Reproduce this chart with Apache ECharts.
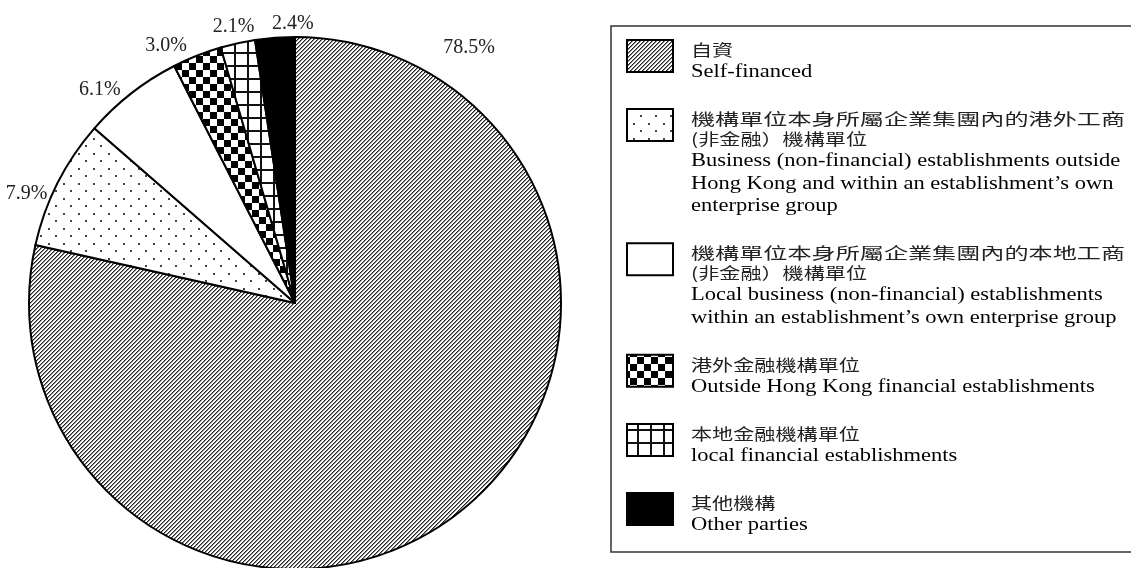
<!DOCTYPE html>
<html><head><meta charset="utf-8">
<script src="https://cdn.jsdelivr.net/npm/echarts@6/dist/echarts.min.js"></script>
<style>html,body{margin:0;padding:0;background:#fff}#c{width:1131px;height:568px}</style>
</head><body><div id="c"></div>
<script>
// ---- data ----
const categories = [
  'Self-financed',
  'Business (non-financial) establishments outside Hong Kong and within an establishment’s own enterprise group',
  'Local business (non-financial) establishments within an establishment’s own enterprise group',
  'Outside Hong Kong financial establishments',
  'local financial establishments',
  'Other parties'
];
const values = [78.5, 7.9, 6.1, 3.0, 2.1, 2.4];
const legendZhLines = [
  ['自資'],
  ['機構單位本身所屬企業集團內的港外工商', '(非金融）機構單位'],
  ['機構單位本身所屬企業集團內的本地工商', '(非金融）機構單位'],
  ['港外金融機構單位'],
  ['本地金融機構單位'],
  ['其他機構']
];
const legendEnLines = [
  ['Self-financed'],
  ['Business (non-financial) establishments outside', 'Hong Kong and within an establishment’s own', 'enterprise group'],
  ['Local business (non-financial) establishments', 'within an establishment’s own enterprise group'],
  ['Outside Hong Kong financial establishments'],
  ['local financial establishments'],
  ['Other parties']
];

// ---- styles ----
const CX = 295, CY = 303, R = 266;
const labelAngleShift = [-107, -4.6, -4.5, -5, -0.1, 3.9];
const labelRadius = [309, 290, 289, 288, 283, 279];

function makePattern(w, h, draw) {
  const c = document.createElement('canvas');
  c.width = w; c.height = h;
  const ctx = c.getContext('2d');
  ctx.fillStyle = '#fff'; ctx.fillRect(0, 0, w, h);
  draw(ctx, w, h);
  return { image: c, repeat: 'repeat' };
}
const hatch = makePattern(4, 4, (ctx) => {
  for (let x = 0; x < 4; x++) for (let y = 0; y < 4; y++) {
    const k = (x + y) % 4;
    if (k === 0) { ctx.fillStyle = '#222'; ctx.fillRect(x, y, 1, 1); }
    else if (k === 1) { ctx.fillStyle = '#8a8a8a'; ctx.fillRect(x, y, 1, 1); }
  }
});
const dots = makePattern(15, 15, (ctx) => {
  ctx.fillStyle = '#444';
  ctx.fillRect(3, 3, 2, 2);
  ctx.fillRect(10, 10, 2, 2);
});
const white = '#ffffff';
const checker = makePattern(14, 14, (ctx) => {
  ctx.fillStyle = '#000';
  ctx.fillRect(0, 0, 7, 7);
  ctx.fillRect(7, 7, 7, 7);
});
const grid = makePattern(13, 13, (ctx) => {
  ctx.fillStyle = '#111';
  ctx.fillRect(0, 0, 13, 2);
  ctx.fillRect(0, 0, 2, 13);
});
const black = '#000000';
const fills = [hatch, dots, white, checker, grid, black];

const total = values.reduce((a, b) => a + b, 0);
const midAngles = [];
(function () { let acc = 0; values.forEach(v => { midAngles.push((acc + v / 2) / total * 360); acc += v; }); })();

// ---- legend (graphic) ----
const graphics = [{
  type: 'rect', silent: true,
  shape: { x: 611, y: 26, width: 530, height: 526 },
  style: { fill: 'none', stroke: '#333', lineWidth: 1.5 }
}];
const TX = 691, JUSTIFY_W = 434;
let y = 50;
categories.forEach((name, i) => {
  graphics.push({
    type: 'rect', silent: true,
    shape: { x: 627, y: y - 10, width: 46, height: 32 },
    style: { fill: fills[i], stroke: '#000', lineWidth: 2 }
  });
  const zh = legendZhLines[i], en = legendEnLines[i];
  zh.forEach((t, j) => {
    const sx = (zh.length > 1 && j === 0) ? JUSTIFY_W / (t.length * 16) : 1.32;
    graphics.push({
      type: 'text', silent: true, x: TX, y: y, scaleX: sx,
      style: { text: t, font: '16px "Noto Sans CJK TC"', fill: '#222', verticalAlign: 'middle', align: 'left' }
    });
    y += (j < zh.length - 1) ? 20 : 22.5;
  });
  en.forEach((t, j) => {
    graphics.push({
      type: 'text', silent: true, x: TX, y: y, scaleX: 1.25,
      style: { text: t, font: '18px "Liberation Serif"', fill: '#000', verticalAlign: 'middle', align: 'left' }
    });
    if (j < en.length - 1) y += 22.5;
  });
  y += 46.6;
});

const chart = echarts.init(document.getElementById('c'), null, { renderer: 'canvas' });
chart.setOption({
  animation: false,
  backgroundColor: '#fff',
  graphic: graphics,
  series: [{
    type: 'pie',
    center: [CX, CY],
    radius: R,
    startAngle: 90,
    clockwise: true,
    avoidLabelOverlap: false,
    emphasis: { disabled: true },
    itemStyle: { borderColor: '#000', borderWidth: 2 },
    label: {
      show: true, position: 'outside',
      formatter: p => p.value.toFixed(1) + '%',
      fontFamily: 'Liberation Serif', fontSize: 20, color: '#222'
    },
    labelLine: { show: false },
    labelLayout: function (p) {
      const i = p.dataIndex;
      const a = (midAngles[i] + labelAngleShift[i]) * Math.PI / 180;
      const r = labelRadius[i];
      return { x: CX + r * Math.sin(a), y: CY - r * Math.cos(a), align: 'center', verticalAlign: 'middle' };
    },
    data: categories.map((n, i) => ({ name: n, value: values[i], itemStyle: { color: fills[i] } }))
  }]
});
</script>
</body></html>
